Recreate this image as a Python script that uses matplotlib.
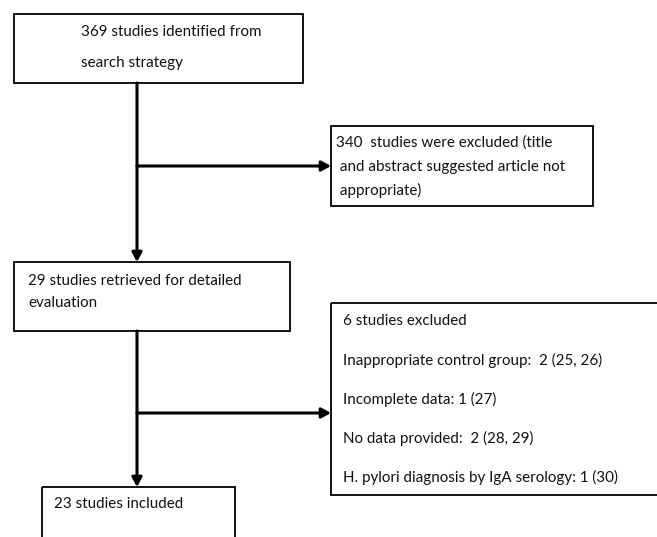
import matplotlib.pyplot as plt
from matplotlib.patches import Rectangle

# box texts (one list of lines per box)
box_lines = [
    ["369 studies identified from", "search strategy"],
    ["340  studies were excluded (title", " and abstract suggested article not", " appropriate)"],
    ["29 studies retrieved for detailed", "evaluation"],
    ["6 studies excluded",
     "Inappropriate control group:  2 (25, 26)",
     "Incomplete data: 1 (27)",
     "No data provided:  2 (28, 29)",
     "H. pylori diagnosis by IgA serology: 1 (30)"],
    ["23 studies included"],
]

# box geometry in pixels: left, top, right, bottom
boxes = [
    (14, 14, 303, 83),
    (331, 126, 593, 206),
    (14, 262, 290, 331),
    (331, 303, 662, 495),
    (42, 487, 235, 545),
]
# text anchor (x, first line y, line step)
text_pos = [
    (81, 32, 31),
    (336, 143, 23.5),
    (28, 281, 22),
    (343, 321, 39),
    (54, 504, 0),
]

fig = plt.figure(figsize=(6.57, 5.37), dpi=100)
ax = fig.add_axes([0, 0, 1, 1])
ax.set_xlim(0, 657)
ax.set_ylim(537, 0)
ax.axis("off")

for (l, t, r, b) in boxes:
    ax.add_patch(Rectangle((l, t), r - l, b - t, fill=False, lw=1.3, ec="black"))

for lines, (x, y, dy) in zip(box_lines, text_pos):
    for i, s in enumerate(lines):
        ax.text(x, y + i * dy, s, fontsize=10.9, family="Lato",
                va="center", ha="left", color="#111111")

arrow = dict(arrowstyle="-|>,head_length=0.55,head_width=0.3", lw=2.2, color="black",
             shrinkA=0, shrinkB=0)
xc = 137
# main vertical flow
ax.annotate("", xy=(xc, 262), xytext=(xc, 83), arrowprops=arrow)
ax.annotate("", xy=(xc, 487), xytext=(xc, 331), arrowprops=arrow)
# side branches
ax.annotate("", xy=(331, 166), xytext=(xc, 166), arrowprops=arrow)
ax.annotate("", xy=(331, 413), xytext=(xc, 413), arrowprops=arrow)

fig.savefig("out.png", dpi=100)
